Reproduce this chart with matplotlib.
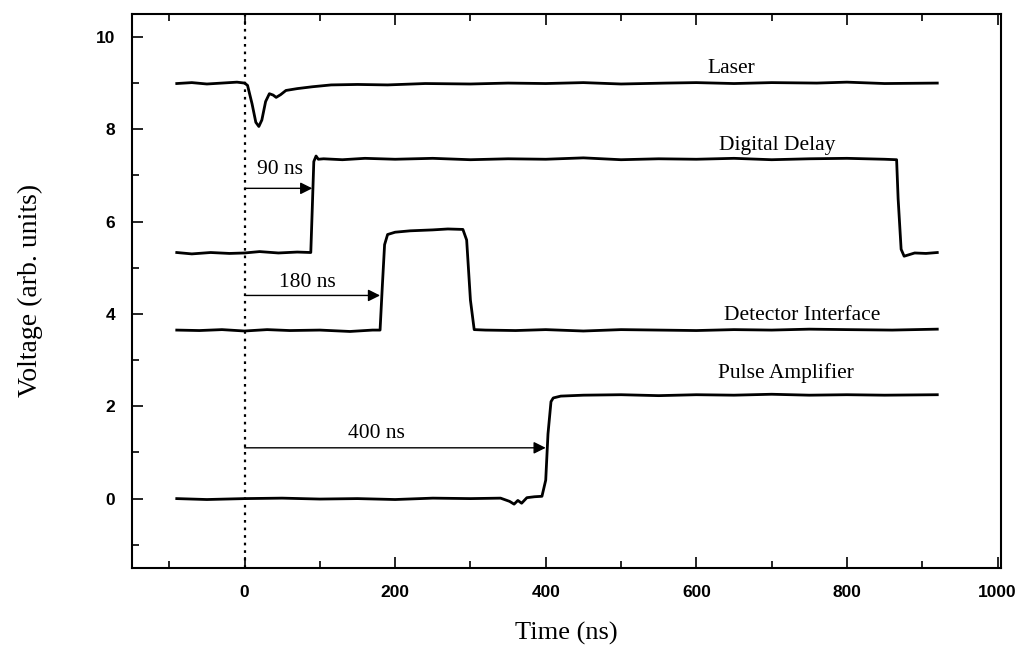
import numpy as np
import matplotlib
matplotlib.use('Agg')
import matplotlib.pyplot as plt
from matplotlib.ticker import MultipleLocator

# trace samples (time in ns, voltage in arb. units)
laser_t = [-90, -70, -50, -30, -10, 0, 4, 10, 15, 19, 23, 28, 33, 38, 42, 48, 55, 70, 90, 115,
           150, 190, 240, 300, 350, 400, 450, 500, 560, 600, 650, 700, 760, 800, 850, 920]
laser_v = [8.99, 9.01, 8.98, 9.0, 9.02, 9.0, 8.95, 8.55, 8.15, 8.06, 8.2, 8.6, 8.77, 8.74, 8.69,
           8.75, 8.84, 8.88, 8.92, 8.96, 8.97, 8.96, 8.99, 8.98, 9.0, 8.99, 9.01, 8.98, 9.0,
           9.01, 8.99, 9.01, 9.0, 9.02, 8.99, 9.0]

delay_t = [-90, -70, -45, -20, 0, 20, 45, 70, 88, 90, 92, 95, 98, 105, 130, 160, 200, 250, 300,
           350, 400, 450, 500, 550, 600, 650, 700, 750, 800, 850, 866, 868, 872, 876, 890, 905,
           920]
delay_v = [5.33, 5.3, 5.33, 5.31, 5.32, 5.35, 5.32, 5.34, 5.33, 6.3, 7.3, 7.42, 7.35, 7.36,
           7.34, 7.37, 7.35, 7.37, 7.34, 7.36, 7.35, 7.38, 7.34, 7.36, 7.35, 7.37, 7.34, 7.36,
           7.37, 7.35, 7.34, 6.5, 5.4, 5.25, 5.32, 5.31, 5.33]

detector_t = [-90, -60, -30, 0, 30, 60, 100, 140, 170, 180, 183, 186, 190, 200, 220, 250, 270,
              290, 295, 300, 305, 320, 360, 400, 450, 500, 550, 600, 650, 700, 750, 800, 860,
              920]
detector_v = [3.65, 3.64, 3.66, 3.63, 3.66, 3.64, 3.65, 3.62, 3.65, 3.65, 4.6, 5.5, 5.72, 5.77,
              5.8, 5.82, 5.84, 5.83, 5.6, 4.3, 3.66, 3.65, 3.64, 3.66, 3.63, 3.66, 3.65, 3.64,
              3.66, 3.65, 3.67, 3.66, 3.65, 3.67]

pulse_t = [-90, -50, 0, 50, 100, 150, 200, 250, 300, 340, 352, 358, 363, 368, 375, 385, 395,
           400, 403, 407, 410, 420, 450, 500, 550, 600, 650, 700, 750, 800, 850, 920]
pulse_v = [0.0, -0.02, 0.0, 0.01, -0.01, 0.0, -0.02, 0.01, 0.0, 0.01, -0.06, -0.12, -0.04,
           -0.1, 0.02, 0.04, 0.05, 0.4, 1.4, 2.1, 2.18, 2.22, 2.24, 2.25, 2.23, 2.25, 2.24, 2.26,
           2.24, 2.25, 2.24, 2.25]

trace_labels = ['Laser', 'Digital Delay', 'Detector Interface', 'Pulse Amplifier']
label_pos = [(647, 9.22), (707, 7.56), (740, 3.86), (719, 2.61)]

delays = [90, 180, 400]
delay_labels = ['90 ns', '180 ns', '400 ns']
arrow_y = [6.72, 4.4, 1.1]
delay_text_pos = [(47, 7.03), (84, 4.59), (175, 1.31)]

serif = 'Liberation Serif'
sans = 'Liberation Sans'

fig = plt.figure(figsize=(10.28, 6.58), dpi=100)
ax = fig.add_axes([0.128, 0.137, 0.846, 0.842])

for t, v in [(laser_t, laser_v), (delay_t, delay_v), (detector_t, detector_v), (pulse_t, pulse_v)]:
    ax.plot(t, v, color='k', lw=2.0, solid_joinstyle='round')

ax.axvline(0, color='k', ls=(0, (1.2, 2.2)), lw=1.6)

for d, lab, y, (tx, ty) in zip(delays, delay_labels, arrow_y, delay_text_pos):
    ax.annotate('', xy=(d, y), xytext=(0, y),
                arrowprops=dict(arrowstyle='-|>', color='k', lw=1.0,
                                mutation_scale=18, shrinkA=0, shrinkB=0))
    ax.text(tx, ty, lab, ha='center', va='baseline', fontsize=15.5, family=serif)

for lab, (tx, ty) in zip(trace_labels, label_pos):
    ax.text(tx, ty, lab, ha='center', va='baseline', fontsize=15.5, family=serif)

ax.set_xlim(-150, 1005)
ax.set_ylim(-1.5, 10.5)
ax.xaxis.set_major_locator(MultipleLocator(200))
ax.xaxis.set_minor_locator(MultipleLocator(100))
ax.yaxis.set_major_locator(MultipleLocator(2))
ax.yaxis.set_minor_locator(MultipleLocator(1))
ax.tick_params(which='both', direction='in', top=True, right=False, width=1.2)
ax.tick_params(which='major', length=8, pad=12)
ax.tick_params(which='minor', length=5)
for s in ax.spines.values():
    s.set_linewidth(1.5)

for lbl in ax.get_xticklabels() + ax.get_yticklabels():
    lbl.set_fontfamily(sans)
    lbl.set_fontweight('bold')
    lbl.set_fontsize(12.5)

ax.set_xlabel('Time (ns)', fontsize=19, family=serif, labelpad=16)
ax.set_ylabel('Voltage (arb. units)', fontsize=20, family=serif, labelpad=38)

plt.savefig('out.png', dpi=100)
